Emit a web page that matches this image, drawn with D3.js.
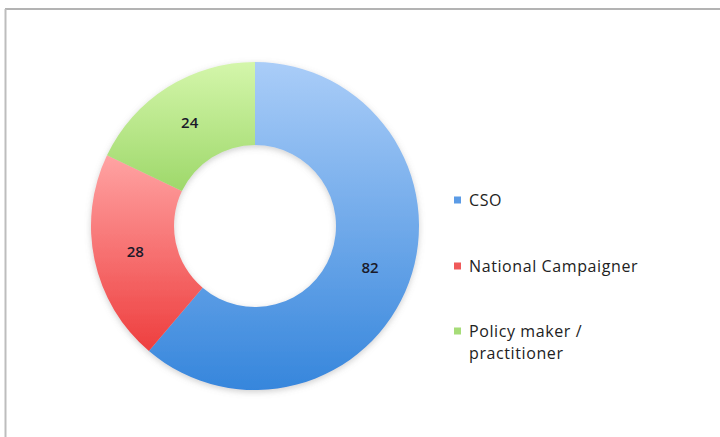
<!DOCTYPE html>
<html>
<head>
<meta charset="utf-8">
<script src="https://cdn.jsdelivr.net/npm/d3@7/dist/d3.min.js"></script>
<style>
  html, body { margin: 0; padding: 0; background: #fff; }
  svg { display: block; }
</style>
</head>
<body>
<svg id="chart" width="720" height="437"></svg>
<script>
// Respondent groups and counts
const categories = ["CSO", "National Campaigner", "Policy maker / practitioner"];
const values = [82, 28, 24];
const legendLines = [["CSO"], ["National Campaigner"], ["Policy maker /", "practitioner"]];
// Light (top) and dark (bottom) stops for each slice
const lightColors = ["#aacdf8", "#ffa3a3", "#d4f6ab"];
const darkColors = ["#3686dc", "#ee3e3e", "#9ed86a"];
const swatchColors = ["#5b9be6", "#f05a5a", "#a6dc78"];

const svg = d3.select("#chart");
const W = 720, H = 437;
const font = "'Open Sans', 'Noto Sans', sans-serif";

// Frame around the plot area
svg.append("rect").attr("x", 0).attr("y", 0).attr("width", W).attr("height", H).attr("fill", "#fff");
svg.append("line").attr("x1", 5).attr("x2", W).attr("y1", 9).attr("y2", 9)
  .attr("stroke", "#9a9a9a").attr("stroke-width", 1.5);
svg.append("line").attr("x1", 5.5).attr("x2", 5.5).attr("y1", 9).attr("y2", H)
  .attr("stroke", "#bdbdbd").attr("stroke-width", 2);

const defs = svg.append("defs");
categories.forEach((c, i) => {
  const g = defs.append("linearGradient").attr("id", "grad" + i)
    .attr("x1", 0).attr("y1", 0).attr("x2", 0).attr("y2", 1);
  g.append("stop").attr("offset", "0%").attr("stop-color", lightColors[i]);
  g.append("stop").attr("offset", "100%").attr("stop-color", darkColors[i]);
});
const shadow = defs.append("filter").attr("id", "shadow")
  .attr("x", "-10%").attr("y", "-10%").attr("width", "120%").attr("height", "125%");
shadow.append("feDropShadow").attr("dx", 0).attr("dy", 2).attr("stdDeviation", 3)
  .attr("flood-color", "#777").attr("flood-opacity", 0.35);

const cx = 255, cy = 226, rOuter = 164, rInner = 81;

const pie = d3.pie().sort(null).value(d => d)(values);
const arc = d3.arc().innerRadius(rInner).outerRadius(rOuter);
const labelArc = d3.arc().innerRadius((rInner + rOuter) / 2).outerRadius((rInner + rOuter) / 2);

const g = svg.append("g").attr("transform", `translate(${cx},${cy})`);
g.append("g").attr("filter", "url(#shadow)")
  .selectAll("path").data(pie).join("path")
  .attr("d", arc)
  .attr("fill", (d, i) => `url(#grad${i})`);

g.selectAll("text.val").data(pie).join("text")
  .attr("class", "val")
  .attr("transform", d => `translate(${labelArc.centroid(d)})`)
  .attr("text-anchor", "middle")
  .attr("dy", "0.35em")
  .attr("font-family", font)
  .attr("font-size", 15)
  .attr("font-weight", 600)
  .attr("fill", "#1a1a2a")
  .text(d => d.data);

// Legend
const legendX = 454, legendY = [200, 266, 331];
const leg = svg.append("g");
categories.forEach((c, i) => {
  leg.append("rect").attr("x", legendX).attr("y", legendY[i] - 3.5)
    .attr("width", 7).attr("height", 7).attr("fill", swatchColors[i]);
  const t = leg.append("text")
    .attr("x", legendX + 15).attr("y", legendY[i] + 5.5)
    .attr("font-family", font)
    .attr("font-size", 16)
    .attr("letter-spacing", 0.6)
    .attr("fill", "#222");
  legendLines[i].forEach((line, j) => {
    t.append("tspan").attr("x", legendX + 15).attr("dy", j === 0 ? 0 : 22).text(line);
  });
});
</script>
</body>
</html>
